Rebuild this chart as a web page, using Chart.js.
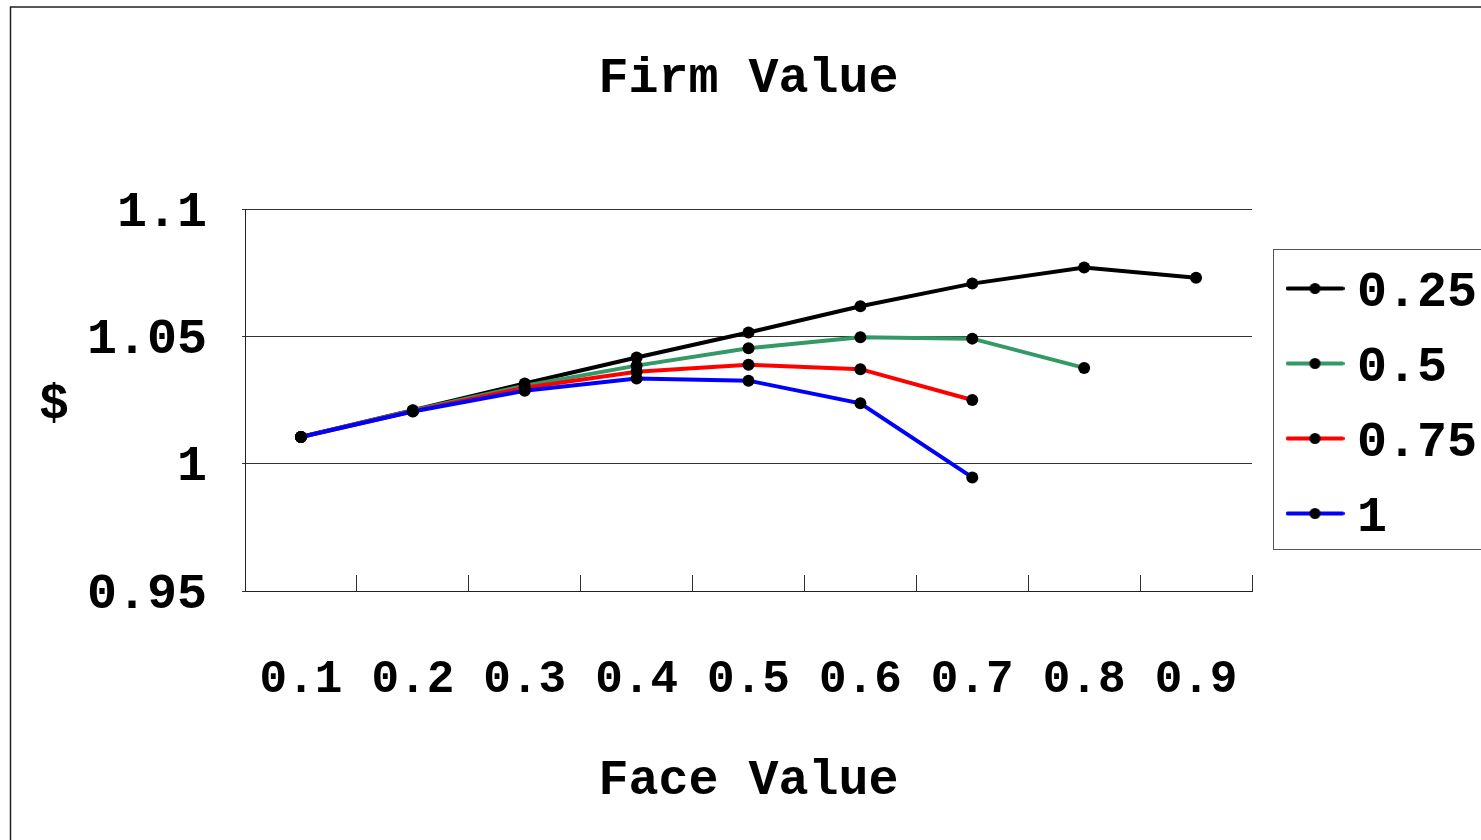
<!DOCTYPE html>
<html>
<head>
<meta charset="utf-8">
<script src="https://cdn.jsdelivr.net/npm/chart.js@4.4.1/dist/chart.umd.min.js"></script>
<style>
  html, body { margin: 0; padding: 0; background: #fff; overflow: hidden; }
  #wrap { width: 1481px; height: 840px; position: relative; }
</style>
</head>
<body>
<div id="wrap"><canvas id="c" width="1481" height="840"></canvas></div>
<script>
// Face value categories on the x axis
const categories = ['0.1', '0.2', '0.3', '0.4', '0.5', '0.6', '0.7', '0.8', '0.9'];

// Series names shown in the legend
const seriesNames = ['0.25', '0.5', '0.75', '1'];

// Firm value for each series
const firm025 = [1.0105, 1.0210, 1.0315, 1.0417, 1.0515, 1.0618, 1.0707, 1.0770, 1.0730];
const firm05  = [1.0105, 1.0209, 1.0306, 1.0385, 1.0453, 1.0496, 1.0491, 1.0376];
const firm075 = [1.0105, 1.0206, 1.0298, 1.0361, 1.0388, 1.0371, 1.0250];
const firm1   = [1.0105, 1.0205, 1.0286, 1.0334, 1.0326, 1.0237, 0.9946];

// Value axis ticks
const yTicks = [0.95, 1, 1.05, 1.1];
const yTickLabels = ['0.95', '1', '1.05', '1.1'];

const FONT = '"Liberation Mono", "Courier New", monospace';
Chart.defaults.font.family = FONT;
Chart.defaults.font.weight = 'bold';
Chart.defaults.color = '#000';

// legend symbol: a short coloured line with a black dot, sitting a little above the text middle
function legendIcon(color) {
  const cv = document.createElement('canvas');
  cv.width = 59; cv.height = 24;
  const g = cv.getContext('2d');
  const cy = 7.5;
  g.strokeStyle = color; g.lineWidth = 4; g.lineCap = 'round';
  g.beginPath(); g.moveTo(2, cy); g.lineTo(57, cy); g.stroke();
  g.fillStyle = '#000';
  g.beginPath(); g.arc(29.5, cy, 5.5, 0, Math.PI * 2); g.fill();
  return cv;
}

const LEGEND_BOX = { x: 1273, y: 249, w: 260, h: 300 };

const decorations = {
  id: 'decorations',
  afterLayout(chart) {
    const lg = chart.legend;
    if (!lg) return;
    lg.left = LEGEND_BOX.x; lg.top = LEGEND_BOX.y - 6;
    lg.width = LEGEND_BOX.w; lg.height = 500;
    lg.right = lg.left + lg.width; lg.bottom = lg.top + lg.height;
  },
  beforeDraw(chart) {
    const ctx = chart.ctx;
    ctx.save();
    ctx.fillStyle = '#fff';
    ctx.fillRect(0, 0, chart.width, chart.height);
    // outer frame
    ctx.strokeStyle = '#222';
    ctx.lineWidth = 1.5;
    ctx.strokeRect(10.5, 7, chart.width + 20, chart.height + 20);
    // legend frame
    ctx.strokeStyle = '#555';
    ctx.lineWidth = 1;
    ctx.strokeRect(LEGEND_BOX.x + 0.5, LEGEND_BOX.y + 0.5, LEGEND_BOX.w, LEGEND_BOX.h);
    ctx.restore();
  },
  afterDraw(chart) {
    // value axis title, written upright
    const ctx = chart.ctx;
    ctx.save();
    ctx.font = 'bold 50px ' + FONT;
    ctx.fillStyle = '#000';
    ctx.textAlign = 'center';
    ctx.textBaseline = 'middle';
    ctx.fillText('$', 54, 405);
    ctx.restore();
  }
};

function series(label, data, color, order) {
  return {
    label, data,
    borderColor: color, backgroundColor: color,
    borderWidth: 4, tension: 0,
    pointRadius: 6, pointHoverRadius: 6,
    pointBackgroundColor: '#000', pointBorderColor: '#000', pointBorderWidth: 0,
    order
  };
}

new Chart(document.getElementById('c'), {
  type: 'line',
  data: {
    labels: categories,
    datasets: [
      series(seriesNames[0], firm025, '#000000', 3),
      series(seriesNames[1], firm05, '#339966', 2),
      series(seriesNames[2], firm075, '#FF0000', 1),
      series(seriesNames[3], firm1, '#0000FF', 0)
    ]
  },
  options: {
    responsive: false,
    animation: false,
    devicePixelRatio: 1,
    layout: { padding: { left: 0, top: 0, right: 229, bottom: 0 } },
    plugins: {
      title: {
        display: true, text: 'Firm Value', fullSize: false,
        font: { size: 50, weight: 'bold' }, color: '#000',
        padding: { top: 49, bottom: 100 }
      },
      legend: {
        position: 'chartArea', align: 'start',
        labels: {
          usePointStyle: true, pointStyleWidth: 34, padding: 25,
          font: { size: 50, weight: 'bold' }, color: '#000',
          generateLabels(chart) {
            return chart.data.datasets.map((ds, i) => ({
              text: ds.label, datasetIndex: i, hidden: false,
              pointStyle: legendIcon(ds.borderColor),
              fillStyle: 'transparent', strokeStyle: 'transparent', lineWidth: 0, fontColor: '#000'
            }));
          }
        }
      },
      tooltip: { enabled: false }
    },
    scales: {
      x: {
        type: 'category', offset: true,
        grid: { offset: true, drawOnChartArea: false, drawTicks: true, tickLength: -16, color: '#333', lineWidth: 1 },
        border: { display: true, color: '#222', width: 1 },
        ticks: { font: { size: 46, weight: 'bold' }, color: '#000', padding: 78, maxRotation: 0, autoSkip: false },
        title: { display: true, text: 'Face Value', font: { size: 50, weight: 'bold' }, color: '#000', padding: { top: 0, bottom: 29 } },
        afterFit(s) { s.height = 249; }
      },
      y: {
        min: 0.95, max: 1.1,
        afterBuildTicks(s) { s.ticks = yTicks.map(v => ({ value: v })); },
        grid: { color: '#333', lineWidth: 1, drawTicks: true, tickLength: 3 },
        border: { display: true, color: '#222', width: 1 },
        ticks: { font: { size: 50, weight: 'bold' }, color: '#000', padding: 35, labelOffset: 4, callback: (v, i) => yTickLabels[i] },
        afterFit(s) { s.width = 245; }
      }
    }
  },
  plugins: [decorations]
});
</script>
</body>
</html>
